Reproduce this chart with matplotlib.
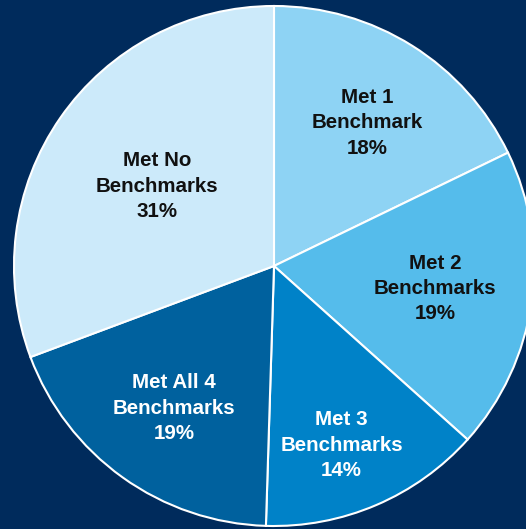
import matplotlib
matplotlib.use("Agg")
import matplotlib.pyplot as plt
import numpy as np

categories = ["Met 1\nBenchmark", "Met 2\nBenchmarks", "Met 3\nBenchmarks",
              "Met All 4\nBenchmarks", "Met No\nBenchmarks"]
values = [18, 19, 14, 19, 31]
colors = ["#8ED3F4", "#55BCEB", "#0082C8", "#00619E", "#CCEAFA"]
text_colors = ["#111111", "#111111", "white", "white", "#111111"]
label_radius = [0.656, 0.625, 0.737, 0.668, 0.545]
label_angle_offset = [-0.9, 0.0, -2.5, 0.5, 0.4]

bg = "#002B5C"
fig = plt.figure(figsize=(5.26, 5.29), dpi=100, facecolor=bg)
ax = fig.add_axes([0, 0, 1, 1])
ax.set_facecolor(bg)

wedges, _ = ax.pie(values, colors=colors, startangle=90, counterclock=False,
                   radius=1.0, center=(0, 0),
                   wedgeprops=dict(edgecolor="white", linewidth=1.5))

for w, lab, v, tc, r, off in zip(wedges, categories, values, text_colors,
                                 label_radius, label_angle_offset):
    mid = np.deg2rad((w.theta1 + w.theta2) / 2 + off)
    ax.text(r * np.cos(mid), r * np.sin(mid), f"{lab}\n{v}%", ha="center", va="center",
            fontsize=14.8, fontweight="bold", color=tc, family="Liberation Sans",
            linespacing=1.42)

px = 1 / 260
ax.set_xlim(-274 * px, 252 * px)
ax.set_ylim(-263 * px, 266 * px)
ax.set_aspect("auto")
ax.axis("off")
fig.savefig("out.png", dpi=100, facecolor=bg)
